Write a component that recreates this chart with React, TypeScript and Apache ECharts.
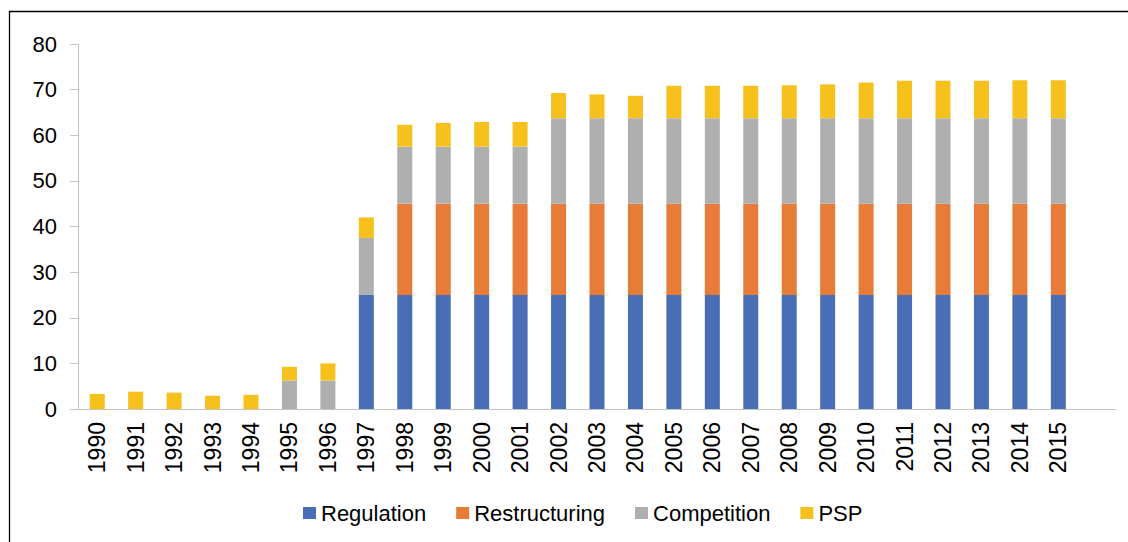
import React, { useEffect, useRef } from "react";
import * as echarts from "echarts";

const years = [
  "1990", "1991", "1992", "1993", "1994", "1995", "1996", "1997", "1998", "1999",
  "2000", "2001", "2002", "2003", "2004", "2005", "2006", "2007", "2008", "2009",
  "2010", "2011", "2012", "2013", "2014", "2015",
];

const regulation = [
  0, 0, 0, 0, 0, 0, 0, 25, 25, 25,
  25, 25, 25, 25, 25, 25, 25, 25, 25, 25,
  25, 25, 25, 25, 25, 25,
];

const restructuring = [
  0, 0, 0, 0, 0, 0, 0, 0, 20, 20,
  20, 20, 20, 20, 20, 20, 20, 20, 20, 20,
  20, 20, 20, 20, 20, 20,
];

const competition = [
  0, 0, 0, 0, 0, 6.25, 6.25, 12.5, 12.5, 12.5,
  12.5, 12.5, 18.75, 18.75, 18.75, 18.75, 18.75, 18.75, 18.75, 18.75,
  18.75, 18.75, 18.75, 18.75, 18.75, 18.75,
];

const psp = [
  3.3, 3.8, 3.6, 2.9, 3.1, 3.0, 3.75, 4.5, 4.8, 5.2,
  5.4, 5.4, 5.5, 5.2, 4.9, 7.1, 7.1, 7.1, 7.2, 7.4,
  7.8, 8.2, 8.2, 8.2, 8.3, 8.3,
];

const seriesNames = ["Regulation", "Restructuring", "Competition", "PSP"];
const colors = ["#4A6EB5", "#E67C37", "#AFAFAF", "#F6C01D"];

const yTicks = { min: 0, max: 80, interval: 10 };

export default function App() {
  const ref = useRef<HTMLDivElement>(null);

  useEffect(() => {
    if (!ref.current) return;
    const chart = echarts.init(ref.current, null, { renderer: "svg" });
    const font = "'Liberation Sans', Arial, sans-serif";
    const dataSets = [regulation, restructuring, competition, psp];
    chart.setOption({
      animation: false,
      color: colors,
      textStyle: { fontFamily: font },
      graphic: [
        {
          type: "rect",
          shape: { x: 9.5, y: 11.5, width: 2000, height: 1000 },
          style: { fill: "none", stroke: "#000", lineWidth: 1.3 },
          silent: true,
          z: -1,
        },
      ],
      legend: {
        data: seriesNames,
        bottom: 13,
        left: 298,
        icon: "rect",
        itemWidth: 13,
        itemHeight: 12,
        itemGap: 30,
        textStyle: { fontSize: 22, color: "#000", fontFamily: font },
      },
      grid: { left: 78, right: 12, top: 44, bottom: 133, containLabel: false },
      xAxis: {
        type: "category",
        data: [...years, ""],
        boundaryGap: true,
        axisLine: { show: true, lineStyle: { color: "#c4c4c4", width: 1 } },
        axisTick: { show: false },
        axisLabel: {
          rotate: 90,
          margin: 13,
          fontSize: 23,
          color: "#000",
          fontFamily: font,
          interval: 0,
        },
      },
      yAxis: {
        type: "value",
        min: yTicks.min,
        max: yTicks.max,
        interval: yTicks.interval,
        splitLine: { show: false },
        axisLine: { show: true, lineStyle: { color: "#c4c4c4", width: 1 } },
        axisTick: { show: true, length: 8, lineStyle: { color: "#c4c4c4" } },
        axisLabel: { fontSize: 22, color: "#000", margin: 21, fontFamily: font },
      },
      series: seriesNames.map((name, i) => ({
        name,
        type: "bar",
        stack: "total",
        barWidth: 15,
        data: dataSets[i],
        itemStyle: { color: colors[i] },
      })),
    });
    return () => chart.dispose();
  }, []);

  return (
    <div
      ref={ref}
      style={{ position: "absolute", left: 0, top: 0, width: 1128, height: 542, background: "#fff" }}
    />
  );
}
